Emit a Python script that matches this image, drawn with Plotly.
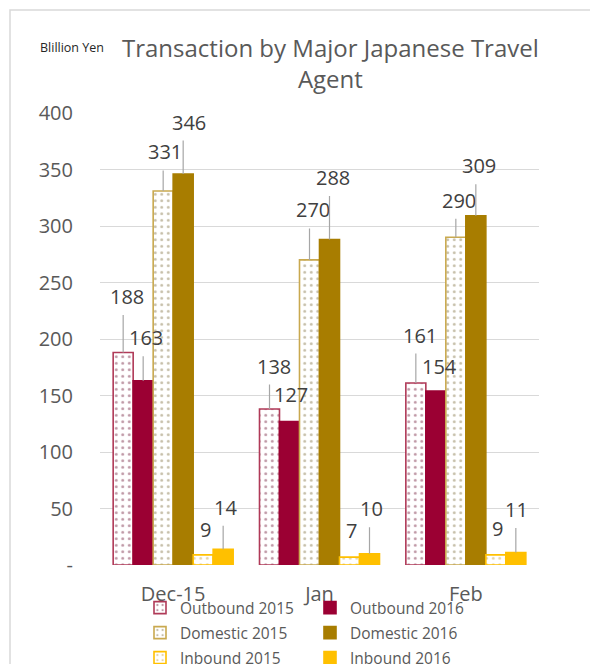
import plotly.graph_objects as go

categories = ["Dec-15", "Jan", "Feb"]
series_names = ["Outbound 2015", "Outbound 2016", "Domestic 2015",
                "Domestic 2016", "Inbound 2015", "Inbound 2016"]
outbound_2015 = [188, 138, 161]
outbound_2016 = [163, 127, 154]
domestic_2015 = [331, 270, 290]
domestic_2016 = [346, 288, 309]
inbound_2015 = [9, 7, 9]
inbound_2016 = [14, 10, 11]
y_tick_vals = [0, 50, 100, 150, 200, 250, 300, 350, 400]
y_tick_text = ["-", "50", "100", "150", "200", "250", "300", "350", "400"]
title_text = "Transaction by Major Japanese Travel<br>Agent"
unit_text = "Blillion Yen"

series_values = [outbound_2015, outbound_2016, domestic_2015,
                 domestic_2016, inbound_2015, inbound_2016]

# styles
fill_colors = ["white", "#9B0033", "white", "#A87D00", "white", "#FFC000"]
line_colors = ["#B03A58", "#9B0033", "#C9A94F", "#A87D00", "#FFC000", "#FFC000"]
dot_colors = ["#7E2E4A", None, "#8C7E52", None, "#C9A94F", None]
patterned = [True, False, True, False, True, False]
legend_rows = ["legend", "legend", "legend2", "legend2", "legend3", "legend3"]

# label placement: (dx, dy) px offset of label centre from bar top, and leader flag
label_dx = [[4, 4, 4], [3, 1, 4], [2, 3, 3], [6, 3, 3], [2, 2, 2], [2, 2, 1]]
label_dy = [[-56, -43, -48], [-43, -27, -24], [-39, -50, -37],
            [-52, -62, -50], [-25, -27, -26], [-42, -45, -43]]
leader = [[True, True, True], [True, False, False], [True, True, True],
          [True, True, True], [False, False, False], [True, True, True]]
leader_gap = 17

W, H = 590, 664
ML, MR, MT, MB = 100, 51, 113, 99
bargap = 0.18
n_series = len(series_values)
pw = W - ML - MR
ph = H - MT - MB

fig = go.Figure()
for i, (name, vals) in enumerate(zip(series_names, series_values)):
    marker = dict(color=fill_colors[i], line=dict(color=line_colors[i], width=1.6))
    if patterned[i]:
        marker["pattern"] = dict(shape=".", fgcolor=dot_colors[i], bgcolor="white",
                                 size=6.5, solidity=0.16, fillmode="overlay")
    fig.add_trace(go.Bar(name=name, x=categories, y=vals, marker=marker,
                         legend=legend_rows[i]))

annotations = []
bw = (1 - bargap) / n_series
for i, vals in enumerate(series_values):
    for j, v in enumerate(vals):
        xpos = j + (i - (n_series - 1) / 2) * bw
        if leader[i][j]:
            annotations.append(dict(
                x=xpos, y=v, xref="x", yref="y", text="",
                showarrow=True, arrowhead=0, arrowwidth=1.2, standoff=0,
                arrowcolor="#A6A6A6", ax=0, ay=label_dy[i][j] + leader_gap))
        annotations.append(dict(
            x=xpos, y=v, xref="x", yref="y", text=str(v), showarrow=False,
            xshift=label_dx[i][j], yshift=-label_dy[i][j],
            xanchor="center", yanchor="middle",
            font=dict(family="Open Sans", size=20, color="#404040")))

annotations.append(dict(
    x=(38 - ML) / pw, y=1 + (MT - 47) / ph, xref="paper", yref="paper",
    xanchor="left", yanchor="middle", text=unit_text, showarrow=False,
    font=dict(family="Open Sans", size=12.5, color="#262626")))
annotations.append(dict(
    x=(330 - ML) / pw, y=1 + (MT - 63.5) / ph, xref="paper", yref="paper",
    xanchor="center", yanchor="middle", text=title_text, showarrow=False,
    font=dict(family="Open Sans", size=24, color="#595959")))

legend_common = dict(orientation="h", x=(140 - ML) / pw, xanchor="left",
                     yanchor="middle", entrywidth=125, entrywidthmode="pixels",
                     font=dict(family="Open Sans", size=15.5, color="#595959"),
                     itemwidth=30, traceorder="normal", bgcolor="rgba(0,0,0,0)")
row_centers = [608, 633, 658]

fig.update_layout(
    width=W, height=H,
    margin=dict(l=ML, r=MR, t=MT, b=MB, autoexpand=False),
    paper_bgcolor="white", plot_bgcolor="white",
    barmode="group", bargap=bargap, bargroupgap=0,
    font=dict(family="Open Sans", color="#595959"),
    xaxis=dict(type="category", showgrid=False, showline=False, zeroline=False,
               ticks="", tickfont=dict(size=20, color="#595959"),
               ticklabelstandoff=15),
    yaxis=dict(range=[0, 400], tickvals=y_tick_vals, ticktext=y_tick_text,
               showgrid=True, gridcolor="#D9D9D9", gridwidth=1, zeroline=False,
               showline=False, ticks="", ticklabelstandoff=26,
               tickfont=dict(size=20, color="#595959")),
    legend=dict(legend_common, y=-(row_centers[0] - (H - MB)) / ph),
    legend2=dict(legend_common, y=-(row_centers[1] - (H - MB)) / ph),
    legend3=dict(legend_common, y=-(row_centers[2] - (H - MB)) / ph),
    annotations=annotations,
    shapes=[dict(type="rect", xref="paper", yref="paper",
                 x0=(10 - ML) / pw, x1=(W - ML + 30) / pw,
                 y0=-(MB + 30) / ph, y1=1 + (MT - 10) / ph,
                 line=dict(color="#D9D9D9", width=1.5), fillcolor="rgba(0,0,0,0)",
                 layer="below")],
)

fig.write_html("out.html")
